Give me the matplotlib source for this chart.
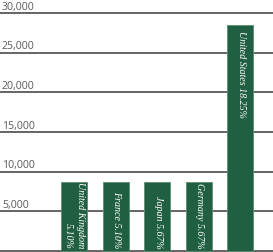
import numpy as np
import matplotlib
matplotlib.use("Agg")
import matplotlib.pyplot as plt
import matplotlib.transforms as mtransforms

countries = ["United Kingdom\n5.10%", "France 5.10%", "Japan 5.67%",
             "Germany 5.67%", "United States 18.25%"]
values = [8700, 8700, 8700, 8700, 28500]
grid_ticks = [5000, 10000, 15000, 20000, 25000, 30000]
tick_labels = ["5,000", "10,000", "15,000", "20,000", "25,000", "30,000"]

W, H = 273, 253
fig = plt.figure(figsize=(W / 100, H / 100), dpi=100)
# axes: zero line at 252 px from top, 30,000 line at 14 px from top
ax = fig.add_axes([0, 1 / H, 1, 238 / H])
ax.set_ylim(0, 30000)
ax.set_xlim(-1.779, 4.784)
ax.axis("off")

x = np.arange(len(values))
ax.bar(x, values, width=0.625, color="#215f42", edgecolor="#5b8c72",
       linewidth=0.6, zorder=3, clip_on=False)

# grid lines and labels sitting on top of them
trans = mtransforms.blended_transform_factory(fig.transFigure, ax.transData)
for t, lab in zip([0] + grid_ticks, [None] + tick_labels):
    ax.axhline(t, color="#4a4a4a", linewidth=1.2, zorder=2, clip_on=False)
    if lab:
        ax.text(2 / W, t + 180, lab, transform=trans, ha="left", va="bottom",
                fontsize=7.6, color="#5a5a5a", family="Open Sans")

# rotated labels inside the bars
for xi, v, name in zip(x, values, countries):
    if v > 20000:
        ax.text(xi + 0.02, v - 700, name, rotation=270, ha="center", va="top",
                color="white", fontsize=7.2, style="italic",
                family="Liberation Serif", zorder=4)
    else:
        ax.text(xi + 0.02, 450, name, rotation=270, ha="center", va="bottom",
                color="white", fontsize=7.2, style="italic",
                family="Liberation Serif", multialignment="right",
                linespacing=1.45, zorder=4)

fig.savefig("out.png", dpi=100)
